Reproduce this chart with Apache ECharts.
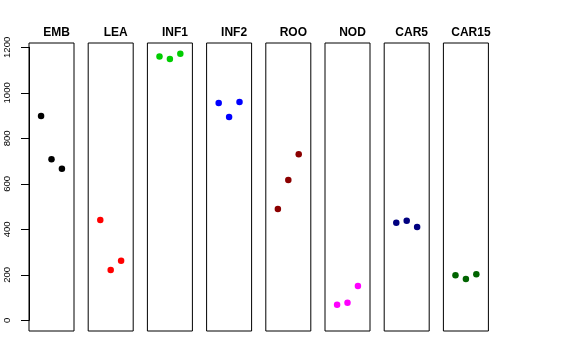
<!DOCTYPE html>
<html>
<head>
<meta charset="utf-8">
<script src="https://cdn.jsdelivr.net/npm/echarts@6/dist/echarts.min.js"></script>
<style>html,body{margin:0;padding:0;background:#fff}#c{width:576px;height:360px}</style>
</head>
<body>
<div id="c"></div>
<script>
const categories = ['EMB','LEA','INF1','INF2','ROO','NOD','CAR5','CAR15'];
const colors = ['#000000','#FF0000','#00CD00','#0000FF','#8B0000','#FF00FF','#000080','#006400'];
const replicateX = [1, 2, 3];
const EMB = [898, 708, 666];
const LEA = [441, 221, 262];
const INF1 = [1159, 1149, 1172];
const INF2 = [955, 894, 960];
const ROO = [489, 617, 730];
const NOD = [69, 77, 151];
const CAR5 = [429, 438, 410];
const CAR15 = [198, 182, 202];
const seriesValues = [EMB, LEA, INF1, INF2, ROO, NOD, CAR5, CAR15];
const yTicks = [0, 200, 400, 600, 800, 1000, 1200];

const dataMax = Math.max(...seriesValues.flat());
const yMin = 0 - dataMax * 0.04, yMax = dataMax * 1.04;
const xMin = 0 - 4 * 0.04, xMax = 4 * 1.04;

const plotTop = 43, plotH = 288, panelW = 45, left0 = 29, step = 59.2;
const pxPerUnit = plotH / (yMax - yMin);

const grid = [], xAxis = [], yAxis = [], series = [], title = [];
categories.forEach((cat, i) => {
  const left = left0 + step * i;
  grid.push({left: left, top: plotTop, width: panelW, height: plotH, show: true,
    borderColor: '#000', borderWidth: 1, backgroundColor: 'transparent'});
  xAxis.push({gridIndex: i, type: 'value', min: xMin, max: xMax, show: false});
  yAxis.push({gridIndex: i, type: 'value', min: yMin, max: yMax, show: false, splitLine: {show: false}});
  series.push({type: 'scatter', xAxisIndex: i, yAxisIndex: i, symbol: 'circle', symbolSize: 6.5,
    itemStyle: {color: colors[i], opacity: 1}, silent: true,
    data: seriesValues[i].map((v, j) => [replicateX[j], v])});
  title.push({text: cat, left: left + panelW / 2, top: 22, textAlign: 'center',
    textStyle: {fontFamily: 'Liberation Sans', fontWeight: 'bold', fontSize: 12, color: '#000'}});
});
// axis grid spanning 0..1200
const axTop = plotTop + (yMax - yTicks[yTicks.length - 1]) * pxPerUnit;
const axH = (yTicks[yTicks.length - 1] - yTicks[0]) * pxPerUnit;
grid.push({left: left0, top: axTop, width: panelW, height: axH, show: false});
xAxis.push({gridIndex: 8, type: 'value', min: 0, max: 1, show: false});
yAxis.push({gridIndex: 8, type: 'value', min: yTicks[0], max: yTicks[yTicks.length - 1], interval: 200,
  axisLine: {show: true, lineStyle: {color: '#000', width: 1}},
  axisTick: {show: true, length: 8, lineStyle: {color: '#000', width: 1}},
  axisLabel: {show: true, rotate: 90, margin: 17, fontSize: 9.6, fontFamily: 'Liberation Sans', color: '#000',
    formatter: v => String(v)},
  splitLine: {show: false}});

const chart = echarts.init(document.getElementById('c'), null, {renderer: 'canvas'});
chart.setOption({animation: false, backgroundColor: '#fff', title, grid, xAxis, yAxis, series});
</script>
</body>
</html>
